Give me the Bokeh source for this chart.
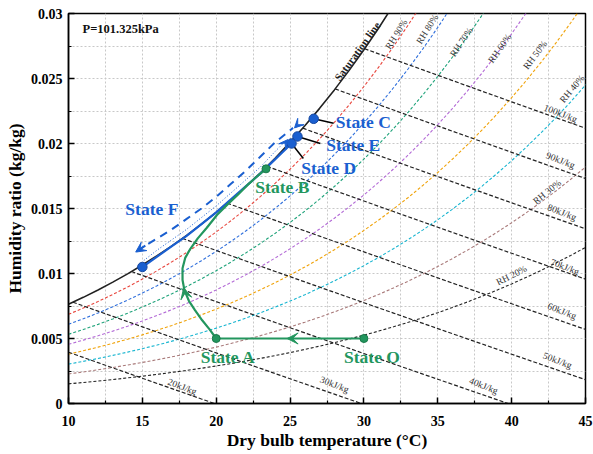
import numpy as np
from bokeh.plotting import figure
from bokeh.models import (FixedTicker, CustomJSTickFormatter, Arrow, VeeHead, Range1d)
from bokeh.core.properties import value
from bokeh.embed import file_html
from bokeh.resources import INLINE

# ---------------- data ----------------
P_ATM = 101.325  # kPa
# saturation vapour pressure table (kPa), 10..46 degC
table_T = list(range(10, 47))
table_psat = [1.2282, 1.3130, 1.4028, 1.4981, 1.5990, 1.7058, 1.8188, 1.9384, 2.0647,
              2.1983, 2.3393, 2.4882, 2.6453, 2.8111, 2.9858, 3.1699, 3.3639, 3.5681,
              3.7831, 4.0092, 4.2470, 4.4969, 4.7596, 5.0354, 5.3251, 5.6290, 5.9479,
              6.2823, 6.6328, 7.0002, 7.3849, 7.7878, 8.2096, 8.6508, 9.1124, 9.5950,
              10.099]
rh_levels = [0.9, 0.8, 0.7, 0.6, 0.5, 0.4, 0.3, 0.2]
rh_colors = ["#e8453c", "#2f6fdc", "#1fa37a", "#b36ad6", "#f0a30a", "#17b5d0", "#a97a7a", "#222222"]
rh_labels = ["RH 90%", "RH 80%", "RH 70%", "RH 60%", "RH 50%", "RH 40%", "RH 30%", "RH 20%"]
rh_label_T = [32.2, 34.3, 36.6, 39.2, 41.6, 44.1, 42.4, 40.0]
rh_label_w = [0.0284, 0.0288, 0.0278, 0.0273, 0.0268, 0.0242, 0.01626, 0.00985]
rh_label_deg = [58, 58, 56, 55, 53, 50, 39, 27]

h_levels = [20, 30, 40, 50, 60, 70, 80, 90, 100]
h_labels = ["20kJ/kg", "30kJ/kg", "40kJ/kg", "50kJ/kg", "60kJ/kg", "70kJ/kg", "80kJ/kg", "90kJ/kg", "100kJ/kg"]
h_label_T = [17.7, 28.0, 38.1, 43.1, 43.4, 43.6, 43.4, 43.3, 43.3]
h_label_w = [0.00128, 0.00145, 0.00135, 0.0033, 0.0071, 0.0105, 0.0147, 0.0187, 0.0223]

# process: green path O -> A -> B
OA_T = [30.0, 20.0]
OA_w = [0.0050, 0.0050]
AB_T = [20.0, 19.55, 19.05, 18.55, 18.15, 17.85, 17.72, 17.72, 17.9, 18.25, 18.75, 19.35,
        20.05, 20.75, 21.5, 22.2, 22.8, 23.37]
AB_w = [0.0050, 0.0057, 0.0064, 0.0072, 0.0079, 0.0087, 0.0095, 0.0104, 0.0112, 0.0119,
        0.0127, 0.0135, 0.0145, 0.0153, 0.0161, 0.0169, 0.0175, 0.01805]
green_pts_T = [30.0, 20.0, 23.37]
green_pts_w = [0.0050, 0.0050, 0.01805]

# blue path F -> D (solid), dotted, dashed
FD_T = [15.0, 16.0, 17.0, 18.0, 19.0, 20.0, 21.0, 22.0, 23.0, 24.0, 25.1]
FD_w = [0.0105, 0.0113, 0.0121, 0.0129, 0.0138, 0.0147, 0.0157, 0.0167, 0.0177, 0.0188, 0.0200]
dot_T = [15.1, 16.0, 17.0, 18.0, 19.0, 20.0, 21.0, 22.0, 23.0, 24.0, 24.7]
dot_w = [0.0110, 0.0118, 0.0126, 0.0134, 0.0143, 0.0152, 0.0162, 0.0172, 0.0182, 0.0194, 0.0202]
dash_T = [14.6, 15.0, 16.0, 17.0, 18.0, 19.0, 20.0, 21.0, 22.0, 23.0, 24.0, 25.2]
dash_w = [0.0117, 0.0120, 0.0127, 0.0134, 0.0142, 0.0150, 0.0159, 0.0169, 0.0179, 0.0190, 0.0201, 0.0212]
blue_pts_T = [26.6, 25.5, 25.1, 15.0]
blue_pts_w = [0.0219, 0.02054, 0.0200, 0.0105]

state_names = ["State C", "State E", "State D", "State B", "State F", "State A", "State O"]
state_T = [28.1, 27.45, 25.75, 22.65, 13.85, 18.95, 28.65]
state_w = [0.02162, 0.01985, 0.01808, 0.01669, 0.0150, 0.00354, 0.00354]
state_colors = ["#1a5fd0", "#1a5fd0", "#1a5fd0", "#23965e", "#1a5fd0", "#23965e", "#23965e"]

leader_T0 = [26.6, 25.5, 25.1]
leader_w0 = [0.0219, 0.02054, 0.0200]
leader_T1 = [27.95, 27.05, 25.9]
leader_w1 = [0.02155, 0.0200, 0.01885]

x_ticks = [10, 15, 20, 25, 30, 35, 40, 45]
x_minor = [12.5, 17.5, 22.5, 27.5, 32.5, 37.5, 42.5]
y_ticks = [0, 0.005, 0.01, 0.015, 0.02, 0.025, 0.03]
y_minor = [0.0025, 0.0075, 0.0125, 0.0175, 0.0225, 0.0275]

# ---------------- derived curves ----------------
Tt = np.array(table_T, dtype=float)
ps = np.array(table_psat)
w_sat = 0.622 * ps / (P_ATM - ps)
h_sat = 1.006 * Tt + w_sat * (2501 + 1.86 * Tt)

GREEN = "#23965e"
BLUE = "#1a5fd0"
SERIF = value("Liberation Serif")

p = figure(width=593, height=454, output_backend="svg", toolbar_location=None,
           x_range=Range1d(10, 45), y_range=Range1d(0, 0.03),
           min_border_left=68, min_border_right=8, min_border_top=13, min_border_bottom=10,
           frame_width=517, frame_height=390)
p.background_fill_color = "white"
p.border_fill_color = "white"
p.outline_line_color = "black"
p.outline_line_width = 1.5

# RH curves
for phi, col in zip(rh_levels, rh_colors):
    w = 0.622 * phi * ps / (P_ATM - phi * ps)
    p.line(Tt, w, line_color=col, line_width=1.1, line_dash="3 2")

# enthalpy lines
for h in h_levels:
    if h_sat[0] >= h:
        t0 = Tt[0]
    else:
        i = int(np.argmax(h_sat >= h))
        f = (h - h_sat[i - 1]) / (h_sat[i] - h_sat[i - 1])
        t0 = Tt[i - 1] + f * (Tt[i] - Tt[i - 1])
    ts = np.concatenate([[t0], Tt[Tt > t0]])
    ws = (h - 1.006 * ts) / (2501 + 1.86 * ts)
    p.line(ts, ws, line_color="#222222", line_width=1.2, line_dash="4 2")

# saturation line
p.line(Tt, w_sat, line_color="#222222", line_width=1.6)

# labels on curves
p.text(x=rh_label_T, y=rh_label_w, text=rh_labels, angle=[np.deg2rad(a) for a in rh_label_deg],
       text_font=SERIF, text_font_size="9.5px", text_color="#333333",
       text_align="center", text_baseline="middle")
p.text(x=h_label_T, y=h_label_w, text=h_labels, angle=[np.deg2rad(-21)] * len(h_labels),
       text_font=SERIF, text_font_size="9.5px", text_color="#333333",
       text_align="center", text_baseline="middle")
p.text(x=[29.55], y=[0.0271], text=["Saturation line"], angle=[np.deg2rad(54)],
       text_font=SERIF, text_font_size="11px", text_font_style="bold", text_color="#222222",
       text_align="center", text_baseline="middle")
p.text(x=[10.95], y=[0.02877], text=["P=101.325kPa"], text_font=SERIF, text_font_size="12.5px",
       text_font_style="bold", text_color="#111111", text_align="left", text_baseline="middle")

# blue process
p.line(dash_T, dash_w, line_color=BLUE, line_width=2, line_dash="8 6")
p.line(dot_T, dot_w, line_color=BLUE, line_width=1, line_dash="1 2")
p.line(FD_T, FD_w, line_color=BLUE, line_width=2.2)
p.add_layout(Arrow(end=VeeHead(size=10, fill_color=BLUE, line_color=BLUE),
                   x_start=15.2, y_start=0.01215, x_end=14.55, y_end=0.01165,
                   line_color=BLUE, line_width=2))
p.add_layout(Arrow(end=VeeHead(size=9, fill_color=BLUE, line_color=BLUE),
                   x_start=25.7, y_start=0.02165, x_end=25.3, y_end=0.0212,
                   line_color=BLUE, line_width=0, line_alpha=0))
p.add_layout(Arrow(end=VeeHead(size=9, fill_color=BLUE, line_color=BLUE),
                   x_start=24.5, y_start=0.0198, x_end=24.85, y_end=0.0203,
                   line_color=BLUE, line_width=0, line_alpha=0))

# green process
p.line(OA_T, OA_w, line_color=GREEN, line_width=2.2)
p.line(AB_T, AB_w, line_color=GREEN, line_width=2.2)
p.add_layout(Arrow(end=VeeHead(size=11, fill_color=GREEN, line_color=GREEN),
                   x_start=25.6, y_start=0.005, x_end=24.8, y_end=0.005,
                   line_color=GREEN, line_width=0, line_alpha=0))
p.add_layout(Arrow(end=VeeHead(size=11, fill_color=GREEN, line_color=GREEN),
                   x_start=17.95, y_start=0.0082, x_end=17.8, y_end=0.0089,
                   line_color=GREEN, line_width=0, line_alpha=0))

# leader lines
p.segment(x0=leader_T0, y0=leader_w0, x1=leader_T1, y1=leader_w1, line_color="black", line_width=1.5)

# state markers
p.scatter(green_pts_T, green_pts_w, size=8, marker="circle", fill_color=GREEN, line_color="#1a7a4a")
p.scatter(blue_pts_T, blue_pts_w, size=9.5, marker="circle", fill_color=BLUE, line_color="#1748a0")

# state labels
p.text(x=state_T, y=state_w, text=state_names, text_color=state_colors,
       text_font=SERIF, text_font_size="17.5px", text_font_style="bold",
       text_align="left", text_baseline="middle")

# axes
p.xaxis.ticker = FixedTicker(ticks=x_ticks, minor_ticks=x_minor)
p.yaxis.ticker = FixedTicker(ticks=y_ticks, minor_ticks=y_minor)
p.yaxis.formatter = CustomJSTickFormatter(code="return String(Math.round(tick*10000)/10000);")
for ax in (p.xaxis[0], p.yaxis[0]):
    ax.axis_line_color = "black"
    ax.axis_line_width = 1.5
    ax.major_tick_in = 6
    ax.major_tick_out = 0
    ax.minor_tick_in = 3
    ax.minor_tick_out = 0
    ax.major_tick_line_color = "black"
    ax.major_tick_line_width = 1.5
    ax.minor_tick_line_color = "black"
    ax.minor_tick_line_width = 1.2
    ax.major_label_text_font = "Liberation Serif"
    ax.major_label_text_font_style = "bold"
    ax.major_label_text_font_size = "14px"
    ax.major_label_text_color = "black"
    ax.axis_label_text_font = "Liberation Serif"
    ax.axis_label_text_font_style = "bold"
    ax.axis_label_text_font_size = "17.5px"
    ax.axis_label_text_color = "black"
p.xaxis.axis_label = "Dry bulb temperature (°C)"
p.yaxis.axis_label = "Humidity ratio (kg/kg)"
p.xaxis.major_label_standoff = 12
p.yaxis.major_label_standoff = 6
p.xaxis.axis_label_standoff = 1
p.yaxis.axis_label_standoff = 3

# grid
for g in (p.xgrid[0], p.ygrid[0]):
    g.grid_line_color = "#c8c8c8"
    g.grid_line_dash = "2 2"
    g.grid_line_width = 1
    g.minor_grid_line_color = "#c8c8c8"
    g.minor_grid_line_dash = "2 2"
    g.minor_grid_line_width = 1

open("out.html", "w").write(file_html(p, INLINE))
